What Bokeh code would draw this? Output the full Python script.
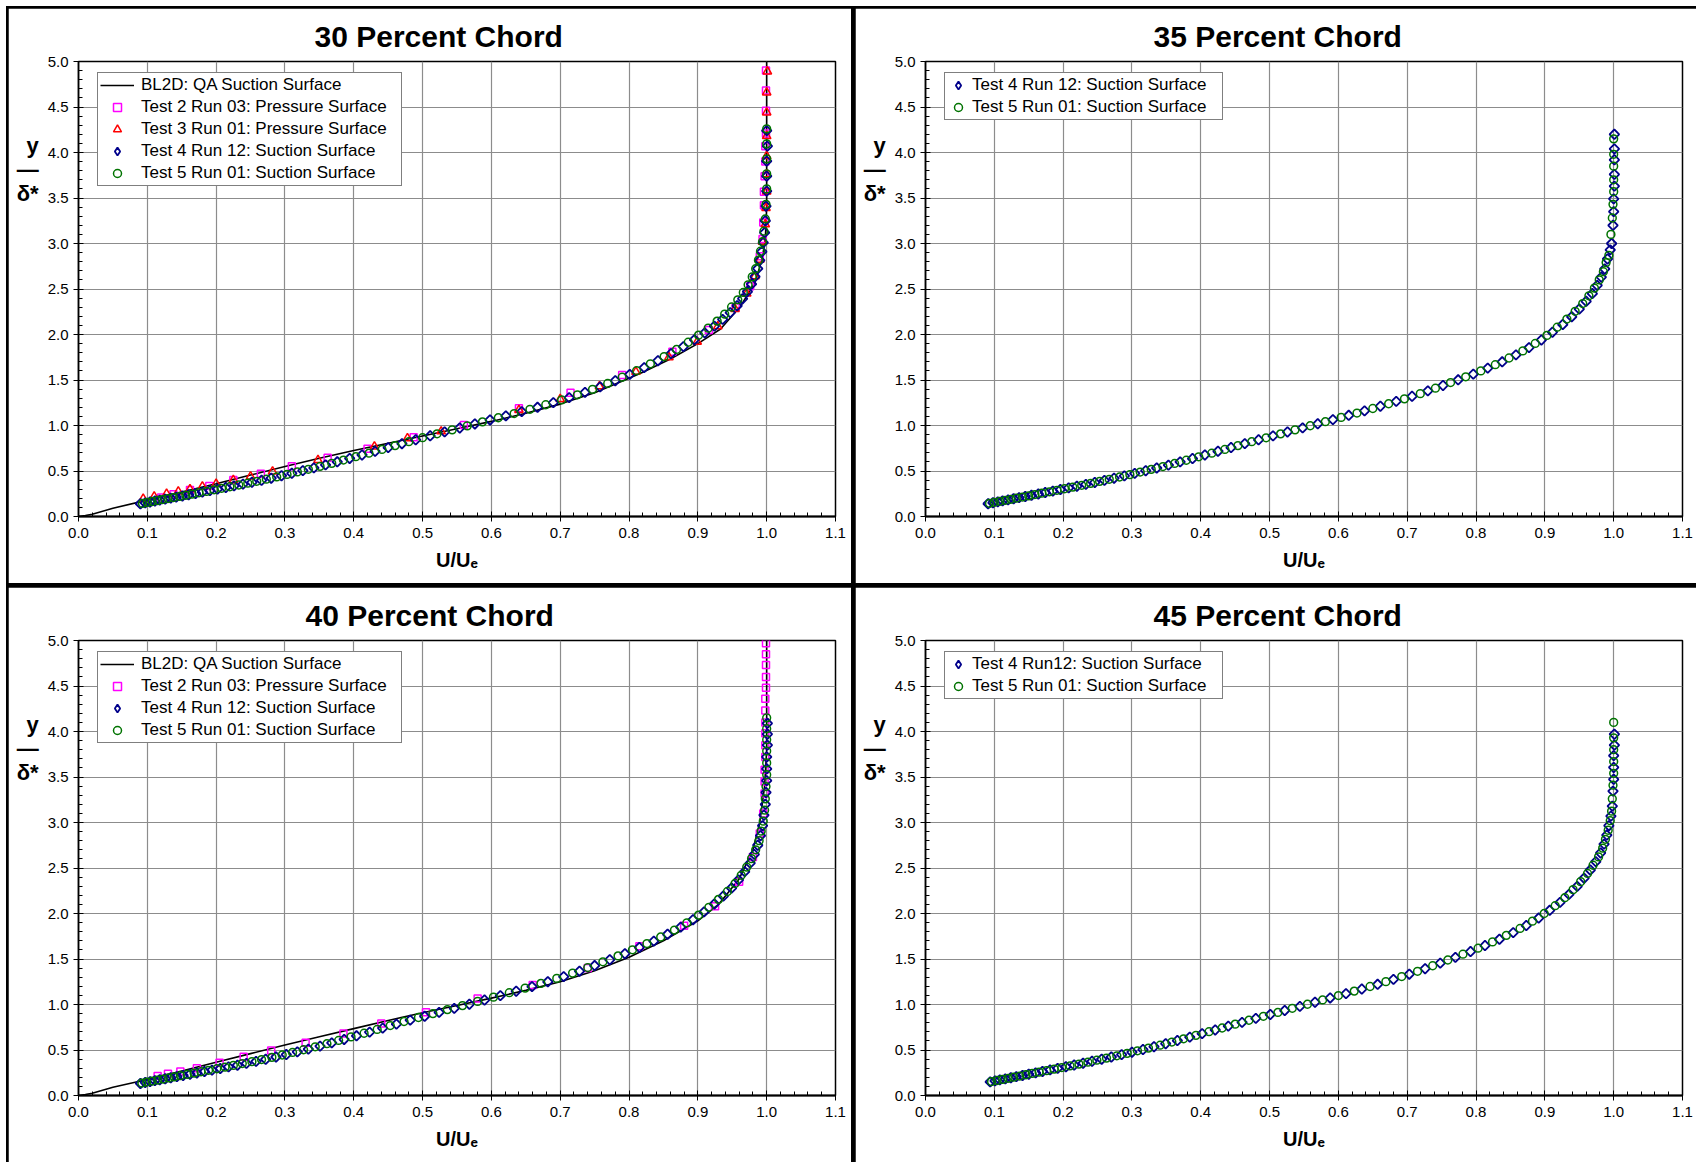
from bokeh.plotting import figure
from bokeh.models import (SingleIntervalTicker, PrintfTickFormatter, Legend, LegendItem,
                          GridBox)
from bokeh.embed import file_html
from bokeh.resources import INLINE
import math

# ---------------- data (U/Ue, y/delta*) ----------------
titles = ["30  Percent  Chord", "35  Percent  Chord", "40  Percent  Chord", "45  Percent  Chord"]

bl2d_30 = [(0.000,0.000),(0.010,0.010),(0.020,0.025),(0.050,0.090),(0.100,0.180),(0.150,0.270),
           (0.200,0.360),(0.250,0.455),(0.300,0.550),(0.350,0.640),(0.400,0.725),(0.450,0.805),
           (0.500,0.885),(0.550,0.965),(0.600,1.045),(0.650,1.135),(0.700,1.235),(0.750,1.360),
           (0.800,1.520),(0.820,1.585),(0.860,1.730),(0.900,1.900),(0.933,2.060),(0.962,2.310),
           (0.983,2.570),(0.993,2.820),(0.998,3.040),(1.000,3.400),(1.000,5.000)]

t2_30 = [(0.120,0.210),(0.138,0.245),(0.162,0.290),(0.190,0.335),(0.225,0.400),(0.265,0.470),
         (0.310,0.552),(0.362,0.645),(0.420,0.745),(0.487,0.870),(0.560,1.005),(0.640,1.190),
         (0.715,1.360),(0.790,1.555),(0.863,1.810),(0.916,2.050),(0.955,2.300),(0.976,2.530),
         (0.990,2.860),(0.994,3.050),(0.995,3.230),(0.996,3.420),(0.996,3.570),(0.997,3.740),
         (0.998,3.900),(0.998,4.070),(0.999,4.210),(0.999,4.460),(0.999,4.680),(0.999,4.900)]

t3_30 = [(0.094,0.195),(0.110,0.220),(0.128,0.250),(0.145,0.275),(0.162,0.300),(0.180,0.330),
         (0.200,0.360),(0.225,0.400),(0.250,0.440),(0.282,0.495),(0.348,0.620),(0.430,0.770),
         (0.478,0.860),(0.527,0.935),(0.640,1.170),(0.700,1.290),(0.757,1.430),(0.810,1.590),
         (0.858,1.750),(0.899,1.920),(0.929,2.090),(0.954,2.280),(0.971,2.450),(0.983,2.640),
         (0.990,2.820),(0.994,3.020),(0.998,3.210),(0.999,3.390),(1.000,3.570),(1.000,3.760),
         (1.000,3.960),(1.000,4.180),(1.000,4.440),(1.000,4.660),(1.001,4.890)]

t4_30 = [(0.090,0.140),(0.097,0.150),(0.104,0.160),(0.111,0.170),(0.118,0.180),(0.126,0.191),
         (0.134,0.202),(0.142,0.213),(0.151,0.226),(0.160,0.239),(0.170,0.253),(0.180,0.268),
         (0.191,0.284),(0.202,0.301),(0.214,0.318),(0.226,0.336),(0.239,0.356),(0.252,0.376),
         (0.266,0.398),(0.280,0.421),(0.295,0.448),(0.310,0.475),(0.326,0.504),(0.342,0.534),
         (0.359,0.567),(0.376,0.601),(0.394,0.638),(0.412,0.676),(0.431,0.716),(0.450,0.757),
         (0.470,0.800),(0.490,0.843),(0.511,0.887),(0.532,0.930),(0.554,0.973),(0.576,1.017),
         (0.598,1.061),(0.621,1.106),(0.644,1.152),(0.667,1.200),(0.690,1.251),(0.713,1.306),
         (0.736,1.364),(0.758,1.425),(0.780,1.492),(0.801,1.562),(0.822,1.636),(0.842,1.712),
         (0.861,1.790),(0.879,1.867),(0.895,1.943),(0.910,2.018),(0.924,2.092),(0.936,2.166),
         (0.947,2.240),(0.957,2.316),(0.965,2.393),(0.972,2.472),(0.978,2.553),(0.983,2.637),
         (0.987,2.724),(0.990,2.815),(0.993,2.910),(0.995,3.010),(0.997,3.120),(0.998,3.250),
         (0.999,3.410),(1.000,3.575),(1.000,3.740),(1.000,3.905),(1.001,4.070),(1.000,4.240)]

t5_30 = [(0.093,0.144),(0.100,0.155),(0.107,0.165),(0.115,0.176),(0.122,0.186),(0.130,0.197),
         (0.138,0.208),(0.147,0.220),(0.156,0.233),(0.165,0.246),(0.175,0.261),(0.186,0.276),
         (0.197,0.293),(0.208,0.310),(0.220,0.327),(0.233,0.346),(0.246,0.366),(0.259,0.387),
         (0.273,0.410),(0.288,0.435),(0.303,0.462),(0.318,0.490),(0.334,0.519),(0.351,0.551),
         (0.368,0.584),(0.385,0.620),(0.403,0.657),(0.422,0.696),(0.441,0.737),(0.460,0.779),
         (0.480,0.822),(0.500,0.866),(0.521,0.909),(0.543,0.952),(0.565,0.996),(0.587,1.040),
         (0.610,1.085),(0.633,1.131),(0.656,1.178),(0.679,1.228),(0.702,1.281),(0.725,1.337),
         (0.747,1.397),(0.769,1.462),(0.790,1.530),(0.811,1.602),(0.831,1.678),(0.851,1.757),
         (0.869,1.836),(0.886,1.915),(0.901,1.993),(0.915,2.070),(0.928,2.147),(0.939,2.224),
         (0.949,2.302),(0.958,2.381),(0.966,2.462),(0.973,2.546),(0.979,2.633),(0.984,2.723),
         (0.988,2.817),(0.991,2.915),(0.994,3.020),(0.996,3.135),(0.998,3.270),(0.999,3.430),
         (1.000,3.600),(1.000,3.765),(1.000,3.930),(1.000,4.095),(1.000,4.260)]

t4_35 = [(0.091,0.140),(0.098,0.151),(0.105,0.161),(0.112,0.172),(0.120,0.183),(0.128,0.195),
         (0.136,0.207),(0.145,0.220),(0.154,0.233),(0.164,0.248),(0.174,0.263),(0.185,0.279),
         (0.196,0.296),(0.208,0.314),(0.220,0.333),(0.233,0.353),(0.246,0.374),(0.260,0.397),
         (0.274,0.421),(0.289,0.447),(0.304,0.474),(0.320,0.503),(0.336,0.533),(0.353,0.565),
         (0.370,0.600),(0.388,0.637),(0.406,0.676),(0.425,0.717),(0.444,0.758),(0.464,0.801),
         (0.484,0.843),(0.505,0.886),(0.526,0.929),(0.548,0.974),(0.570,1.019),(0.592,1.065),
         (0.615,1.112),(0.638,1.161),(0.661,1.212),(0.684,1.265),(0.707,1.321),(0.730,1.380),
         (0.752,1.440),(0.774,1.502),(0.796,1.564),(0.817,1.630),(0.838,1.700),(0.858,1.776),
         (0.877,1.856),(0.895,1.940),(0.911,2.025),(0.926,2.110),(0.939,2.195),(0.950,2.280),
         (0.960,2.365),(0.969,2.450),(0.976,2.540),(0.982,2.630),(0.987,2.720),(0.991,2.830),
         (0.995,2.930),(0.997,3.000),(0.999,3.200),(1.000,3.350),(1.000,3.490),(1.001,3.630),
         (1.001,3.760),(1.001,3.920),(1.001,4.040),(1.001,4.200)]

t5_35 = [(0.093,0.145),(0.100,0.156),(0.108,0.167),(0.116,0.178),(0.124,0.189),(0.132,0.201),
         (0.141,0.214),(0.150,0.227),(0.159,0.241),(0.169,0.256),(0.180,0.271),(0.191,0.288),
         (0.202,0.305),(0.214,0.323),(0.227,0.343),(0.240,0.364),(0.253,0.386),(0.267,0.409),
         (0.282,0.434),(0.297,0.460),(0.312,0.488),(0.328,0.518),(0.345,0.549),(0.362,0.583),
         (0.379,0.618),(0.397,0.656),(0.416,0.696),(0.435,0.737),(0.454,0.779),(0.474,0.822),
         (0.495,0.865),(0.516,0.908),(0.537,0.952),(0.559,0.997),(0.581,1.042),(0.604,1.089),
         (0.627,1.137),(0.650,1.187),(0.673,1.239),(0.696,1.293),(0.719,1.350),(0.741,1.410),
         (0.763,1.472),(0.785,1.535),(0.807,1.600),(0.828,1.668),(0.848,1.742),(0.868,1.820),
         (0.886,1.902),(0.903,1.990),(0.918,2.080),(0.932,2.170),(0.944,2.255),(0.955,2.340),
         (0.964,2.425),(0.972,2.510),(0.979,2.600),(0.985,2.690),(0.989,2.790),(0.993,2.870),
         (0.996,3.100),(0.998,3.280),(0.999,3.430),(1.000,3.570),(1.000,3.700),(1.000,3.850),
         (1.000,3.980),(1.000,4.150)]

bl2d_40 = [(0.000,0.000),(0.010,0.010),(0.020,0.025),(0.050,0.090),(0.100,0.175),(0.150,0.270),
           (0.200,0.365),(0.250,0.460),(0.300,0.555),(0.350,0.645),(0.400,0.735),(0.450,0.825),
           (0.500,0.910),(0.550,0.990),(0.600,1.070),(0.650,1.155),(0.700,1.250),(0.750,1.370),
           (0.800,1.520),(0.850,1.700),(0.900,1.920),(0.930,2.100),(0.960,2.380),(0.980,2.700),
           (0.990,3.000),(0.997,3.400),(1.000,3.800),(1.000,5.000)]

t2_40 = [(0.115,0.215),(0.130,0.240),(0.148,0.265),(0.172,0.300),(0.205,0.360),(0.240,0.425),
         (0.280,0.495),(0.330,0.580),(0.385,0.680),(0.440,0.790),(0.505,0.915),(0.580,1.065),
         (0.660,1.215),(0.740,1.400),(0.815,1.640),(0.880,1.865),(0.925,2.080),(0.960,2.350),
         (0.980,2.620),(0.990,2.880),(0.995,3.100),(0.997,3.320),(0.997,3.450),(0.997,3.580),
         (0.998,3.720),(0.998,3.850),(0.998,3.980),(0.998,4.100),(0.998,4.230),(0.998,4.360),
         (0.999,4.480),(0.999,4.600),(0.999,4.730),(0.999,4.850),(0.999,4.970)]

t4_40 = [(0.090,0.132),(0.097,0.143),(0.104,0.153),(0.111,0.163),(0.118,0.173),(0.126,0.184),
         (0.134,0.195),(0.143,0.207),(0.152,0.220),(0.162,0.234),(0.172,0.248),(0.183,0.263),
         (0.194,0.279),(0.206,0.296),(0.218,0.314),(0.231,0.333),(0.244,0.353),(0.258,0.375),
         (0.272,0.398),(0.287,0.423),(0.302,0.450),(0.318,0.479),(0.334,0.510),(0.351,0.543),
         (0.368,0.578),(0.386,0.616),(0.404,0.656),(0.423,0.697),(0.442,0.740),(0.462,0.784),
         (0.482,0.828),(0.503,0.871),(0.524,0.914),(0.546,0.958),(0.568,1.003),(0.590,1.049),
         (0.613,1.097),(0.636,1.146),(0.659,1.197),(0.682,1.250),(0.705,1.306),(0.728,1.366),
         (0.750,1.428),(0.772,1.492),(0.794,1.558),(0.815,1.627),(0.836,1.697),(0.856,1.772),
         (0.875,1.850),(0.893,1.932),(0.909,2.018),(0.924,2.105),(0.937,2.192),(0.949,2.280),
         (0.959,2.370),(0.968,2.460),(0.976,2.553),(0.982,2.650),(0.987,2.750),(0.991,2.855),
         (0.994,2.965),(0.996,3.080),(0.998,3.200),(0.999,3.330),(1.000,3.460),(1.000,3.590),
         (1.000,3.720),(1.001,3.850),(1.001,3.970),(1.001,4.090)]

t5_40 = [(0.092,0.137),(0.099,0.148),(0.107,0.159),(0.115,0.170),(0.123,0.181),(0.131,0.193),
         (0.139,0.205),(0.148,0.218),(0.158,0.232),(0.168,0.246),(0.178,0.261),(0.189,0.277),
         (0.201,0.294),(0.213,0.312),(0.225,0.331),(0.238,0.351),(0.252,0.372),(0.266,0.395),
         (0.281,0.419),(0.296,0.445),(0.311,0.473),(0.327,0.503),(0.344,0.535),(0.361,0.569),
         (0.378,0.605),(0.396,0.644),(0.415,0.684),(0.434,0.726),(0.453,0.769),(0.473,0.813),
         (0.494,0.857),(0.515,0.900),(0.536,0.944),(0.558,0.988),(0.580,1.034),(0.603,1.081),
         (0.626,1.130),(0.649,1.180),(0.672,1.232),(0.695,1.287),(0.718,1.345),(0.740,1.406),
         (0.762,1.469),(0.784,1.534),(0.805,1.601),(0.826,1.670),(0.846,1.742),(0.866,1.818),
         (0.884,1.898),(0.901,1.982),(0.916,2.068),(0.930,2.155),(0.943,2.242),(0.954,2.330),
         (0.963,2.420),(0.971,2.510),(0.978,2.603),(0.984,2.700),(0.989,2.800),(0.992,2.905),
         (0.995,3.015),(0.997,3.135),(0.998,3.260),(0.999,3.395),(1.000,3.525),(1.000,3.655),
         (1.000,3.785),(1.000,3.910),(1.000,4.030),(1.000,4.150)]

t4_45 = [(0.094,0.150),(0.101,0.161),(0.108,0.172),(0.116,0.183),(0.124,0.195),(0.132,0.207),
         (0.141,0.220),(0.150,0.234),(0.160,0.249),(0.170,0.264),(0.181,0.281),(0.192,0.298),
         (0.204,0.316),(0.216,0.335),(0.229,0.355),(0.242,0.376),(0.256,0.399),(0.270,0.423),
         (0.285,0.449),(0.300,0.476),(0.316,0.505),(0.332,0.536),(0.349,0.569),(0.366,0.604),
         (0.384,0.641),(0.402,0.680),(0.421,0.720),(0.440,0.762),(0.460,0.804),(0.480,0.847),
         (0.501,0.890),(0.522,0.934),(0.544,0.979),(0.566,1.025),(0.588,1.072),(0.611,1.120),
         (0.634,1.170),(0.657,1.222),(0.680,1.276),(0.703,1.333),(0.726,1.393),(0.748,1.455),
         (0.770,1.518),(0.792,1.582),(0.813,1.648),(0.834,1.717),(0.854,1.790),(0.873,1.868),
         (0.891,1.950),(0.907,2.035),(0.922,2.122),(0.935,2.210),(0.947,2.298),(0.957,2.388),
         (0.966,2.478),(0.974,2.570),(0.981,2.665),(0.986,2.762),(0.990,2.862),(0.993,2.965),
         (0.996,3.070),(0.998,3.180),(0.999,3.345),(1.000,3.475),(1.000,3.605),(1.000,3.735),
         (1.001,3.850),(1.001,3.970)]

t5_45 = [(0.096,0.153),(0.104,0.165),(0.112,0.177),(0.120,0.189),(0.128,0.201),(0.137,0.214),
         (0.146,0.228),(0.155,0.242),(0.165,0.257),(0.176,0.273),(0.187,0.290),(0.198,0.307),
         (0.210,0.325),(0.223,0.345),(0.236,0.366),(0.249,0.388),(0.263,0.411),(0.278,0.436),
         (0.293,0.463),(0.308,0.491),(0.324,0.521),(0.341,0.553),(0.358,0.587),(0.375,0.623),
         (0.393,0.661),(0.412,0.701),(0.431,0.742),(0.450,0.784),(0.470,0.827),(0.491,0.870),
         (0.512,0.913),(0.533,0.958),(0.555,1.003),(0.577,1.050),(0.600,1.098),(0.623,1.147),
         (0.646,1.198),(0.669,1.251),(0.692,1.307),(0.715,1.365),(0.737,1.426),(0.759,1.489),
         (0.781,1.553),(0.803,1.619),(0.824,1.688),(0.844,1.760),(0.864,1.836),(0.882,1.916),
         (0.899,2.000),(0.915,2.086),(0.929,2.174),(0.941,2.262),(0.952,2.350),(0.962,2.440),
         (0.970,2.530),(0.978,2.622),(0.984,2.718),(0.988,2.815),(0.992,2.915),(0.995,3.020),
         (0.997,3.125),(0.998,3.260),(0.999,3.410),(1.000,3.540),(1.000,3.670),(1.000,3.800),
         (1.000,3.930),(1.000,4.100)]

lbl_bl2d = "BL2D: QA Suction Surface"
lbl_t2 = "Test 2 Run 03: Pressure Surface"
lbl_t3 = "Test 3 Run 01: Pressure Surface"
lbl_t4 = "Test 4 Run 12: Suction Surface"
lbl_t4b = "Test 4 Run12: Suction Surface"
lbl_t5 = "Test 5 Run 01: Suction Surface"
y_label = "y\n\u2014\n\u03b4*"

FONT = "Liberation Sans"
BLUE = "#00008b"
GREEN = "#007300"
MAGENTA = "#ff00ff"
RED = "#ff0000"
NAN = float("nan")


def xs(d):
    return [a for a, b in d]


def ys(d):
    return [b for a, b in d]


def make_panel(title, title_off, width, rb, series, glyph_w, standoff, label_w):
    p = figure(width=width, height=575, x_range=(0, 1.1), y_range=(0, 5),
               output_backend="svg", toolbar_location=None,
               min_border_left=70, min_border_right=rb, min_border_top=53,
               min_border_bottom=67, background_fill_color="white",
               border_fill_color="white")
    p.title.text = title
    p.title.align = "left"
    p.title.offset = title_off
    p.title.text_font = FONT
    p.title.text_font_size = "30px"
    p.title.text_font_style = "bold"
    p.title.text_color = "black"
    p.title.standoff = 18

    p.outline_line_color = "black"
    p.outline_line_width = 1.5

    p.xaxis.ticker = SingleIntervalTicker(interval=0.1, num_minor_ticks=5)
    p.yaxis.ticker = SingleIntervalTicker(interval=0.5, num_minor_ticks=5)
    for ax in (p.xaxis, p.yaxis):
        ax.formatter = PrintfTickFormatter(format="%.1f")
        ax.major_label_text_font = FONT
        ax.major_label_text_font_size = "15px"
        ax.major_label_text_color = "black"
        ax.axis_line_color = "black"
        ax.major_tick_line_color = "black"
        ax.minor_tick_line_color = "black"
        ax.minor_tick_in = 4
        ax.minor_tick_out = 0
        ax.major_tick_in = 5
        ax.major_tick_out = 5
    p.xaxis.axis_line_width = 2.2
    p.yaxis.axis_line_width = 1.5
    p.xaxis.major_label_standoff = 6
    p.yaxis.major_label_standoff = 5
    p.xaxis.axis_label = "U/U\u2091"
    p.xaxis.axis_label_text_font = FONT
    p.xaxis.axis_label_text_font_size = "20px"
    p.xaxis.axis_label_text_font_style = "bold"
    p.xaxis.axis_label_text_color = "black"
    p.xaxis.axis_label_standoff = 8

    # y / delta* label: stacked, horizontal; trailing blank lines lift it
    # to the upper part of the axis like in the original
    p.yaxis.axis_label = y_label + "\n" * 10
    p.yaxis.axis_label_orientation = "horizontal"
    p.yaxis.axis_label_text_font = FONT
    p.yaxis.axis_label_text_font_size = "22px"
    p.yaxis.axis_label_text_font_style = "bold"
    p.yaxis.axis_label_text_color = "black"
    p.yaxis.axis_label_text_line_height = 0.96
    p.yaxis.axis_label_text_align = "center"
    p.yaxis.axis_label_standoff = 6

    for g in (p.xgrid, p.ygrid):
        g.grid_line_color = "#8c8c8c"
        g.grid_line_width = 1.2

    items = []
    for kind, data, label in series:
        if kind == "line":
            r = p.line(xs(data), ys(data), line_color="black", line_width=1.6)
            items.append((label, r))
        elif kind == "square":
            r = p.scatter(xs(data), ys(data), marker="square", size=7,
                          line_color=MAGENTA, fill_color=None, line_width=1.5)
            items.append((label, r))
        elif kind == "triangle":
            r = p.scatter(xs(data), ys(data), marker="triangle", size=8.5,
                          line_color=RED, fill_color=None, line_width=1.5)
            items.append((label, r))
        elif kind == "diamond":
            p.scatter(xs(data), ys(data), marker="square", size=6.8, angle=math.pi / 4,
                      line_color=BLUE, fill_color=None, line_width=1.8)
            # legend swatch only (NaN position is never drawn in the plot)
            r = p.scatter([NAN], [NAN], marker="diamond", size=10,
                          line_color=BLUE, fill_color=None, line_width=1.8)
            items.append((label, r))
        else:
            r = p.scatter(xs(data), ys(data), marker="circle", size=7.8,
                          line_color=GREEN, fill_color=None, line_width=1.5)
            items.append((label, r))

    n = len(items)
    leg_h = n * 20 + (n - 1) * 2 + 4
    legend = Legend(items=[LegendItem(label=l, renderers=[r]) for l, r in items],
                    location=(19, 455 - 13 - leg_h),
                    label_text_font=FONT, label_text_font_size="17px",
                    label_text_color="black", label_height=20, glyph_height=20,
                    glyph_width=glyph_w, label_standoff=standoff, label_width=label_w,
                    spacing=2, padding=2,
                    border_line_color="black", border_line_width=1.2,
                    background_fill_color="white", background_fill_alpha=1.0,
                    margin=0)
    p.add_layout(legend, "center")
    return p


p30 = make_panel(titles[0], 236, 843, 16,
                 [("line", bl2d_30, lbl_bl2d), ("square", t2_30, lbl_t2),
                  ("triangle", t3_30, lbl_t3), ("diamond", t4_30, lbl_t4),
                  ("circle", t5_30, lbl_t5)], 34, 7, 258)
p35 = make_panel(titles[1], 228, 841, 14,
                 [("diamond", t4_35, lbl_t4), ("circle", t5_35, lbl_t5)], 22, 3, 248)
p40 = make_panel(titles[2], 227, 843, 16,
                 [("line", bl2d_40, lbl_bl2d), ("square", t2_40, lbl_t2),
                  ("diamond", t4_40, lbl_t4), ("circle", t5_40, lbl_t5)], 34, 7, 258)
p45 = make_panel(titles[3], 228, 841, 14,
                 [("diamond", t4_45, lbl_t4b), ("circle", t5_45, lbl_t5)], 22, 3, 248)

grid = GridBox(children=[(p30, 0, 0), (p35, 0, 1), (p40, 1, 0), (p45, 1, 1)],
               spacing=4, margin=(6, 0, 0, 6),
               styles={"background-color": "black", "padding": "2px 0px 0px 2px"})

open("out.html", "w").write(file_html(grid, INLINE))
